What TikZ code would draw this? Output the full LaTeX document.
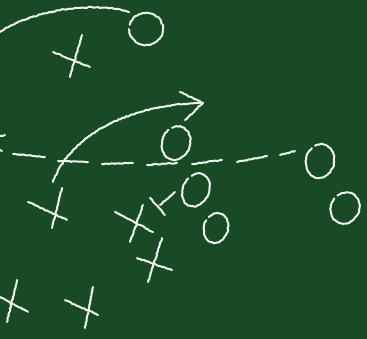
\documentclass[tikz,border=0pt]{standalone}
\usetikzlibrary{decorations.pathmorphing}
\definecolor{board}{RGB}{24,74,38}
\definecolor{chalkc}{RGB}{236,242,236}
\begin{document}
\begin{tikzpicture}[x=1pt,y=-1pt,
  chalk/.style={draw=chalkc,line width=2pt,line cap=round,line join=round,
    decorate,decoration={random steps,segment length=1.6pt,amplitude=0.5pt}},
  chalkO/.style={chalk}]
\pgfmathsetseed{7}
\fill[board] (0,0) rectangle (367,339);
\useasboundingbox (0,0) rectangle (367,339);
% curved routes
\draw[chalk] (0,32) .. controls (30,12) and (90,0) .. (129,12);
\coordinate (a0) at (53,182);
\coordinate (a1) at (203,103);
\draw[chalk] (a0) .. controls (70,135) and (130,104) .. (a1);
\draw[chalk] (180,92) -- (a1) -- (185,120);
% dashed route
\foreach \p/\q in {{(0,136)}/{(5,135)},{(0,150)}/{(2,151)},{(13,154)}/{(45,157)},{(58,161)}/{(88,162)},{(102,164)}/{(133,163)},{(147,165)}/{(177,163)},{(192,164)}/{(222,160)},{(237,162)}/{(267,156)},{(280,155)}/{(295,151)}}
  \draw[chalk] \p -- \q;
% O's
\foreach \c/\rx/\ry/\r/\s in {(146,29)/17/16/0/195,(176,143)/14/17/-20/230,(320,161)/14/17/-12/235,(196,190)/13/17/-25/220,(345,208)/14/16/-25/210,(216,228)/12/15/-15/215}{
  \draw[chalkO,rotate around={\r:\c}] \c ++({\rx*cos(\s)},{\ry*sin(\s)}) arc[start angle=\s,end angle=\s+345,x radius=\rx,y radius=\ry];
}
% X's
\foreach \a/\b/\c/\d in {{(53,52)}/{(90,67)}/{(82,35)}/{(70,77)},{(28,202)}/{(67,220)}/{(62,188)}/{(52,228)},{(115,212)}/{(153,232)}/{(143,205)}/{(130,242)},{(137,258)}/{(172,270)}/{(162,238)}/{(148,282)},{(0,297)}/{(28,312)}/{(17,280)}/{(7,322)},{(65,300)}/{(98,315)}/{(93,287)}/{(85,328)},{(150,198)}/{(165,215)}/{(175,192)}/{(160,205)}}{
  \draw[chalk] \a -- \b;
  \draw[chalk] \c -- \d;
}
\end{tikzpicture}
\end{document}
